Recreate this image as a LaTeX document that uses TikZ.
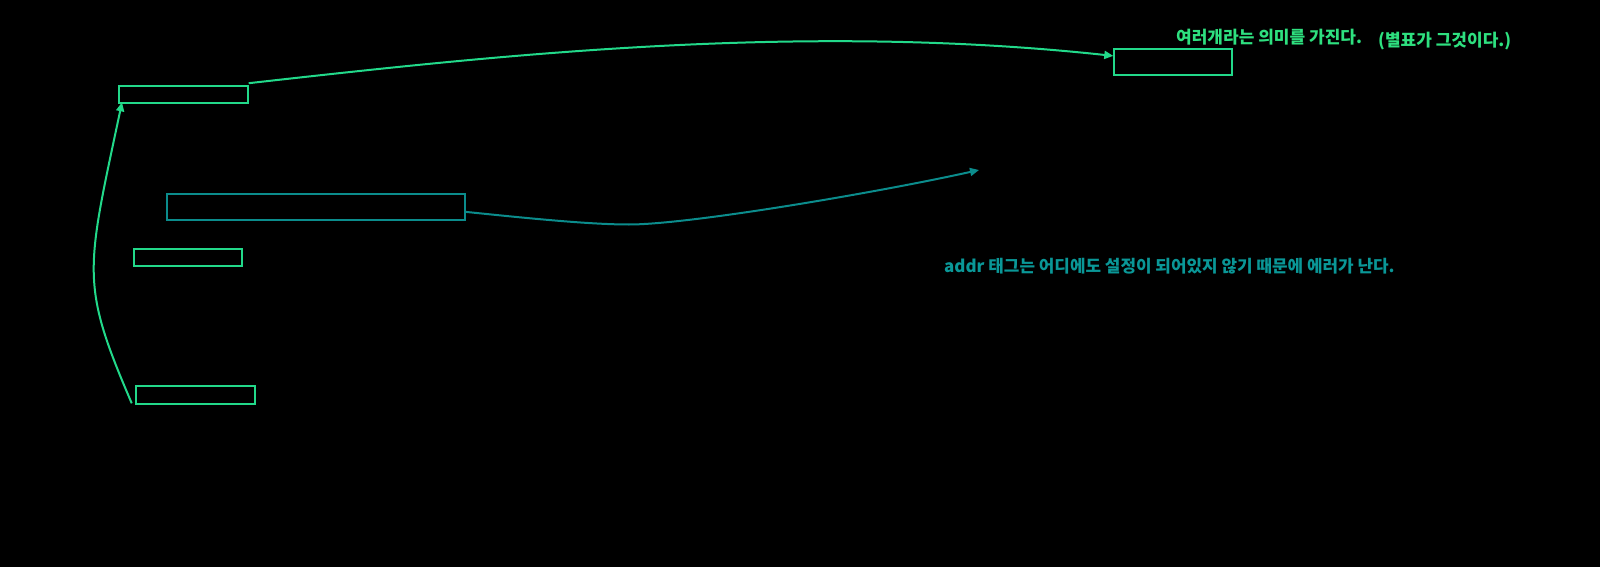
\documentclass[tikz,border=0pt]{standalone}
\usepackage{fontspec}
\newfontfamily\kr{Noto Sans CJK KR}
\usetikzlibrary{calc,arrows.meta}
\definecolor{grn}{HTML}{22D98A}
\definecolor{grntxt}{HTML}{2EE07F}
\definecolor{tl}{HTML}{0B8C8C}
\definecolor{tltxt}{HTML}{0A9797}
\begin{document}
\begin{tikzpicture}[x=1pt,y=-1pt,
  box/.style={draw=grn, line width=2pt, inner sep=0pt},
  tbox/.style={draw=tl, line width=2pt, inner sep=0pt},
  gline/.style={draw=grn, line width=2pt, -{Triangle[length=9pt,width=8pt]}},
  tline/.style={draw=tl, line width=2pt, -{Triangle[length=9pt,width=8pt]}},
  glbl/.style={inner sep=0pt, anchor=base west, font=\kr\bfseries\fontsize{17}{17}\selectfont, text=grntxt},
  tlbl/.style={inner sep=0pt, anchor=base west, font=\kr\bfseries\fontsize{16.9}{17}\selectfont, text=tltxt}]
\fill[black] (0,0) rectangle (1600,567);
\useasboundingbox (0,0) rectangle (1600,567);
% boxes
\node[box, minimum width=129pt, minimum height=17.3pt] (A) at (183.8,94.35) {};
\node[tbox, minimum width=297.7pt, minimum height=26.3pt] (B) at (316.2,206.9) {};
\node[box, minimum width=108.6pt, minimum height=17.3pt] (C) at (188,257.3) {};
\node[box, minimum width=118.7pt, minimum height=17.4pt] (D) at (195.7,395) {};
\node[box, minimum width=118pt, minimum height=26.3pt] (E) at (1173.3,61.9) {};
% labels
\node[glbl] (t1) at (1176,43.5) {여러개라는 의미를 가진다.};
\node[glbl] (t2) at (1378,47) {(별표가 그것이다.)};
\node[tlbl] (t3) at (944,272.5) {addr 태그는 어디에도 설정이 되어있지 않기 때문에 에러가 난다.};
% connectors
\coordinate (tEnd) at (979,170);
\coordinate (tMid) at (629,224.5);
\draw[gline] ($(A.north east)+(-0.6,-1.5)$) .. controls (500,55) and (800,22) .. ($(E.west)+(0,-6)$);
\draw[gline] ($(D.south west)+(-3.6,-1.4)$) .. controls (80,283) and (86,272) .. ($(A.south west)+(3.7,-1.7)$);
\draw[tline] ($(B.east)+(0,5)$) .. controls (530,218.5) and (590,224.5) .. (tMid) .. controls (690,224.5) and (880,192) .. (tEnd);
\end{tikzpicture}
\end{document}
